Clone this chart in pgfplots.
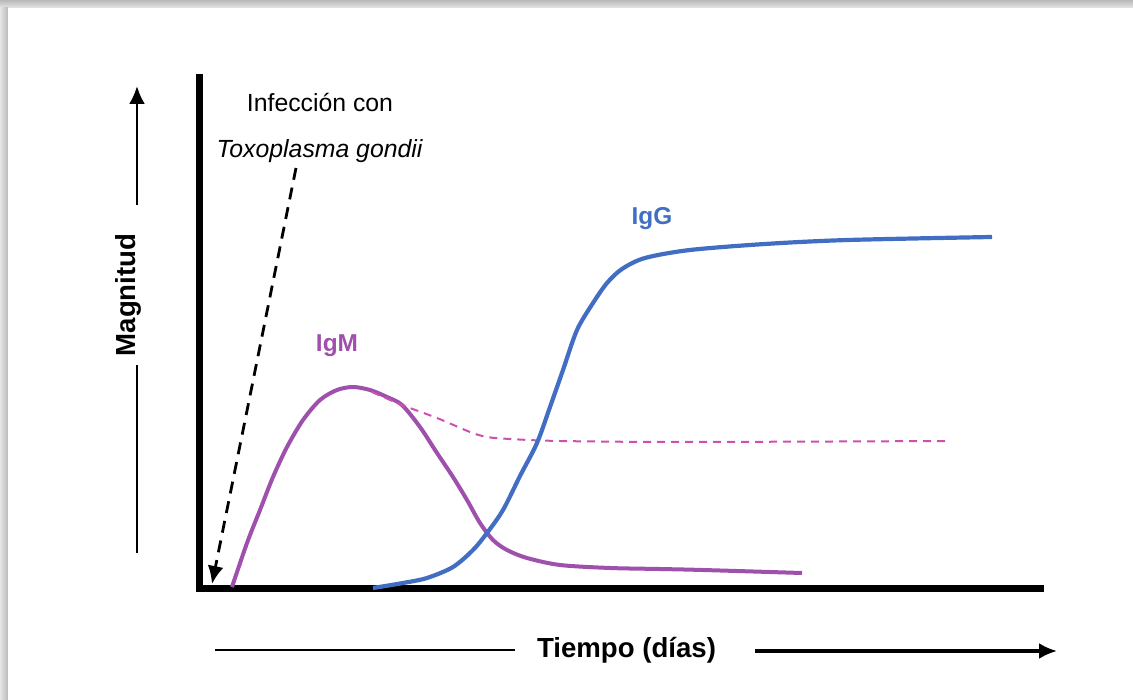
\documentclass[border=0pt]{standalone}
\usepackage{pgfplots}
\pgfplotsset{compat=1.18}
\usetikzlibrary{arrows.meta}
\usepackage{fontspec}
\setmainfont{Liberation Sans}
\definecolor{igm}{RGB}{158,80,172}
\definecolor{igmd}{RGB}{205,80,175}
\definecolor{igg}{RGB}{65,110,195}
\begin{document}
\begin{tikzpicture}
\begin{axis}[
  scale only axis, width=420pt, height=255pt,
  xmin=200, xmax=1040, ymin=112, ymax=622,
  axis x line=bottom, axis y line=left,
  axis line style={line width=3.5pt, -, line cap=rect},
  ticks=none, clip=false,
]
% page frame and shadow
\coordinate (BL) at (axis cs:0,0);
\coordinate (TR) at (axis cs:1133,700);
\shade[top color=gray!55, bottom color=gray!20] (axis cs:0,692) rectangle (axis cs:1133,700);
\shade[left color=gray!20, right color=gray!55] (axis cs:0,0) rectangle (axis cs:8,692);

% IgM
\addplot[igm, line width=2pt, smooth, tension=0.5] coordinates {
(232,113) (247,157) (260,190) (273,223) (287,253) (303,280) (320,300) (337,310)
(353,313) (370,310) (387,303) (402,295) (420,273) (437,247) (453,223) (467,200)
(480,177) (493,160) (507,150) (527,142) (560,135) (610,132) (660,131) (703,130) (802,127)};
% IgM dashed
\addplot[igmd, line width=1pt, dash pattern=on 4pt off 3pt, smooth, tension=0.5] coordinates {
(372,308) (402,295) (437,282) (470,268) (487,263) (510,261) (560,259) (682,258) (945,259)};
% IgG
\addplot[igg, line width=2.1pt, smooth, tension=0.5] coordinates {
(373,112) (403,117) (427,122) (453,133) (473,150) (487,167) (503,190) (520,224)
(537,257) (550,293) (563,330) (577,370) (593,397) (607,417) (622,431) (645,442)
(690,450) (765,456) (848,460) (992,463)};

% infection arrow
\draw[black, line width=1.4pt, dash pattern=on 6pt off 4pt, -{Latex[length=9pt,width=8pt]}]
  (axis cs:296,532) -- (axis cs:212,116);

% labels
\node[anchor=base, inner sep=0, font=\fontsize{12.4}{14}\selectfont] at (axis cs:320,588) {Infección con};
\node[anchor=base, inner sep=0, font=\fontsize{12.4}{14}\selectfont\itshape] at (axis cs:319.5,542) {Toxoplasma gondii};
\node[anchor=base, inner sep=0, text=igm, font=\fontsize{12.2}{14}\selectfont\bfseries] at (axis cs:337,348) {IgM};
\node[anchor=base, inner sep=0, text=igg, font=\fontsize{12.2}{14}\selectfont\bfseries] at (axis cs:652,475) {IgG};

% x label with arrow
\draw[black, line width=0.75pt] (axis cs:215,50) -- (axis cs:515,50);
\draw[black, line width=1.6pt, -{Latex[length=9pt,width=8pt]}] (axis cs:755,49) -- (axis cs:1057,49);
\node[anchor=base, inner sep=0, font=\fontsize{13.8}{16}\selectfont\bfseries] at (axis cs:626.5,43) {Tiempo (días)};

% y label with arrow
\draw[black, line width=0.75pt] (axis cs:137,147) -- (axis cs:137,335);
\draw[black, line width=1.3pt, -{Latex[length=9pt,width=8pt]}] (axis cs:137,495) -- (axis cs:137,614);
\node[anchor=base, rotate=90, inner sep=0, font=\fontsize{13.8}{16}\selectfont\bfseries] at (axis cs:136,405) {Magnitud};
\end{axis}
\pgfresetboundingbox
\path[use as bounding box] (BL) rectangle (TR);
\end{tikzpicture}
\end{document}
